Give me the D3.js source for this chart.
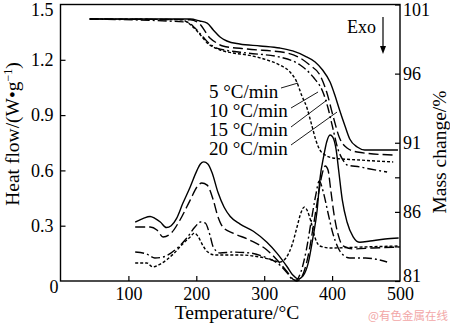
<!DOCTYPE html>
<html><head><meta charset="utf-8">
<script src="https://cdn.jsdelivr.net/npm/d3@7"></script>
<style>body{margin:0;background:#fff}svg{display:block}</style>
</head><body>
<svg id="c" width="450" height="325"></svg>
<script>
// ---- data ----
const rateLabels = ["5 °C/min","10 °C/min","15 °C/min","20 °C/min"];
const xTicks = [100,200,300,400,500];
const yLeftTicks = [0,0.3,0.6,0.9,1.2,1.5];
const yRightTicks = [81,83.5,86,88.5,91,96,101];
const yRightLabels = [81,86,91,96,101];

// TG (mass change, %)
const tgT5  = [43,178,195,205,216,225,235,254,275,304,323,338,348,355,363,370,376,382,390,401,441,490];
const tgM5  = [99.95,99.9,99.37,98.87,98.22,97.93,97.71,97.49,97.35,96.99,96.62,96.12,95.39,94.45,93.51,92.28,91.2,90.48,90.11,89.9,89.75,89.61];
const tgT10 = [43,186,198,210,220,230,275,323,353,372,387,394,401,409,416,422,441,456,481];
const tgM10 = [99.95,99.73,99.3,98.65,98.14,97.85,97.49,97.2,96.62,95.76,94.6,93.51,92.07,90.48,89.75,89.39,89.25,89.1,88.88];
const tgT15 = [43,191,205,220,230,239,275,334,353,367,382,392,401,411,422,437,490];
const tgM15 = [99.95,99.9,99.59,98.58,98.22,98.0,97.78,97.49,97.13,96.62,95.9,94.67,93.01,91.34,90.62,90.33,90.11];
const tgT20 = [43,191,205,216,225,235,245,264,294,323,342,360,375,386,397,404,411,419,426,437,448,497];
const tgM20 = [99.95,99.95,99.81,99.66,99.16,98.65,98.36,98.14,98.0,97.85,97.64,97.27,96.84,96.26,95.39,94.45,93.37,92.21,91.27,90.69,90.48,90.48];

// DSC (heat flow, W/g)
const dscT5  = [110,127,136,147,166,180,191,197,203,210,217,228,264,294,312,323,332,341,348,354,359,363,369,375,382,397,441,498];
const dscH5  = [0.098,0.098,0.076,0.092,0.146,0.201,0.239,0.26,0.239,0.19,0.157,0.141,0.141,0.13,0.114,0.103,0.125,0.195,0.288,0.369,0.401,0.385,0.32,0.233,0.19,0.179,0.184,0.19];
const dscT10 = [110,127,139,151,172,186,198,206,213,220,225,235,254,279,304,323,334,341,347,354,362,369,376,381,387,394,401,409,418,426,449,481];
const dscH10 = [0.157,0.146,0.125,0.13,0.179,0.233,0.293,0.32,0.315,0.25,0.184,0.152,0.157,0.152,0.125,0.087,0.043,0.011,0.005,0.049,0.168,0.32,0.467,0.543,0.483,0.369,0.26,0.179,0.136,0.125,0.125,0.103];
const dscT15 = [110,132,142,151,163,176,191,201,208,216,225,232,239,254,279,304,319,334,342,348,356,365,372,379,385,390,394,398,403,409,416,431,460,498];
const dscH15 = [0.293,0.293,0.277,0.239,0.26,0.331,0.439,0.51,0.532,0.52,0.439,0.347,0.293,0.26,0.222,0.168,0.114,0.049,0.011,0.0,0.027,0.141,0.288,0.45,0.575,0.624,0.602,0.494,0.358,0.25,0.19,0.174,0.179,0.184];
const dscT20 = [110,122,132,139,147,156,163,171,180,191,201,206,211,217,223,232,241,250,264,284,304,319,334,342,350,357,365,372,378,382,388,392,397,401,406,410,415,422,431,441,456,478,498];
const dscH20 = [0.32,0.34,0.35,0.34,0.32,0.29,0.30,0.34,0.42,0.51,0.60,0.635,0.646,0.635,0.59,0.48,0.40,0.35,0.31,0.27,0.21,0.15,0.076,0.033,0.011,0.027,0.10,0.24,0.385,0.55,0.684,0.754,0.792,0.781,0.711,0.59,0.44,0.32,0.24,0.21,0.217,0.228,0.233];

// leader targets on TG curves (temperature, mass)
const leaderT = [349.8,379.3,392.5,407.3];
const leaderM = [95.32,94.67,94.09,93.22];

// ---- drawing ----
const dashes = ["3,2","9,3,2,3","10,4",null];
const FONT = "'Liberation Serif','Times New Roman',serif";
const svg = d3.select("#c");
const L=60.5, R=400, T=4.5, B=281;
const x = d3.scaleLinear([0,500],[L,R]);
const yL = d3.scaleLinear([0,1.5],[B,T]);
const yR = d3.scaleLinear([81,101],[B,T]);

const tg = [[tgT5,tgM5],[tgT10,tgM10],[tgT15,tgM15],[tgT20,tgM20]];
const dsc = [[dscT5,dscH5],[dscT10,dscH10],[dscT15,dscH15],[dscT20,dscH20]];

const lineTG = d3.line().x(d=>x(d[0])).y(d=>yR(d[1])).curve(d3.curveMonotoneX);
const lineDSC = d3.line().x(d=>x(d[0])).y(d=>yL(d[1])).curve(d3.curveMonotoneX);

const g = svg.append("g");
tg.forEach((s,i)=>{
  const pts = s[0].map((t,k)=>[t,s[1][k]]);
  g.append("path").attr("d",lineTG(pts)).attr("fill","none").attr("stroke","#000")
   .attr("stroke-width",1.4).attr("stroke-dasharray",dashes[i]);
});
dsc.forEach((s,i)=>{
  const pts = s[0].map((t,k)=>[t,s[1][k]]);
  g.append("path").attr("d",lineDSC(pts)).attr("fill","none").attr("stroke","#000")
   .attr("stroke-width",1.4).attr("stroke-dasharray",dashes[i]);
});

// axes
const ax = svg.append("g").attr("transform",`translate(0,${B})`)
  .call(d3.axisBottom(x).tickValues(xTicks).tickSize(-5).tickSizeOuter(0).tickPadding(6));
const ayl = svg.append("g").attr("transform",`translate(${L},0)`)
  .call(d3.axisLeft(yL).tickValues(yLeftTicks).tickSize(-5).tickSizeOuter(0).tickPadding(7)
    .tickFormat(d=>d===0?"0":d3.format(".1f")(d)));
const ayr = svg.append("g").attr("transform",`translate(${R},0)`)
  .call(d3.axisRight(yR).tickValues(yRightTicks).tickSize(-5).tickSizeOuter(0).tickPadding(3)
    .tickFormat(d=>yRightLabels.includes(d)?String(d):""));
[ax,ayl,ayr].forEach(a=>{
  a.select(".domain").remove();
  a.selectAll(".tick line").attr("stroke","#000").attr("stroke-width",1.2);
  a.selectAll("text").attr("font-family",FONT).attr("font-size",18).attr("fill","#000");
});
ayl.selectAll(".tick").filter(d=>d===0).select("text").attr("dx",5).attr("dy","0.65em");
ayl.selectAll(".tick").filter(d=>d===1.5).select("text").attr("dy","0.6em");
ayl.selectAll(".tick").filter(d=>d===0||d===1.5).select("line").remove();
ax.selectAll(".tick").filter(d=>d===500).select("line").remove();
ayr.selectAll(".tick").filter(d=>d===101).select("text").attr("dy","0.62em");
ayr.selectAll(".tick").filter(d=>d===81).select("text").attr("dy","0.02em");

// frame
svg.append("rect").attr("x",L).attr("y",T).attr("width",R-L).attr("height",B-T)
  .attr("fill","none").attr("stroke","#000").attr("stroke-width",1.4);

// titles
svg.append("text").attr("x",237).attr("y",319).attr("text-anchor","middle")
  .attr("font-family",FONT).attr("font-size",19.5).text("Temperature/°C");
const lt = svg.append("text").attr("transform","translate(18.5,134) rotate(-90)").attr("text-anchor","middle")
  .attr("font-family",FONT).attr("font-size",19.5);
lt.append("tspan").text("Heat flow/(W•g");
lt.append("tspan").attr("font-size",12).attr("dy",-7).text("−1");
lt.append("tspan").attr("dy",7).text(")");
svg.append("text").attr("transform","translate(446,152) rotate(-90)").attr("text-anchor","middle")
  .attr("font-family",FONT).attr("font-size",19.5).text("Mass change/%");

// Exo arrow
svg.append("text").attr("x",347).attr("y",33).attr("font-family",FONT).attr("font-size",18).text("Exo");
svg.append("line").attr("x1",383).attr("x2",383).attr("y1",17).attr("y2",47).attr("stroke","#000").attr("stroke-width",1.2);
svg.append("path").attr("d","M380,46 L386,46 L383,54 Z").attr("fill","#000");

// rate labels + leaders
const lblX = 209, lblY0 = 98, lblDy = 19;
const leadStartX = [281,291,291,291];
const leadStartY = [88,108,127,145];
rateLabels.forEach((t,i)=>{
  svg.append("text").attr("x",lblX).attr("y",lblY0+i*lblDy).attr("font-family",FONT)
    .attr("font-size",19).text(t);
  svg.append("line").attr("x1",leadStartX[i]).attr("y1",leadStartY[i])
    .attr("x2",x(leaderT[i])).attr("y2",yR(leaderM[i])).attr("stroke","#000").attr("stroke-width",0.9);
});

// watermark
svg.append("text").attr("x",368).attr("y",320).attr("font-family","'Noto Sans CJK SC',sans-serif")
  .attr("font-size",11.5).attr("fill","#f2a7a7").text("@有色金属在线");
</script>
</body></html>
